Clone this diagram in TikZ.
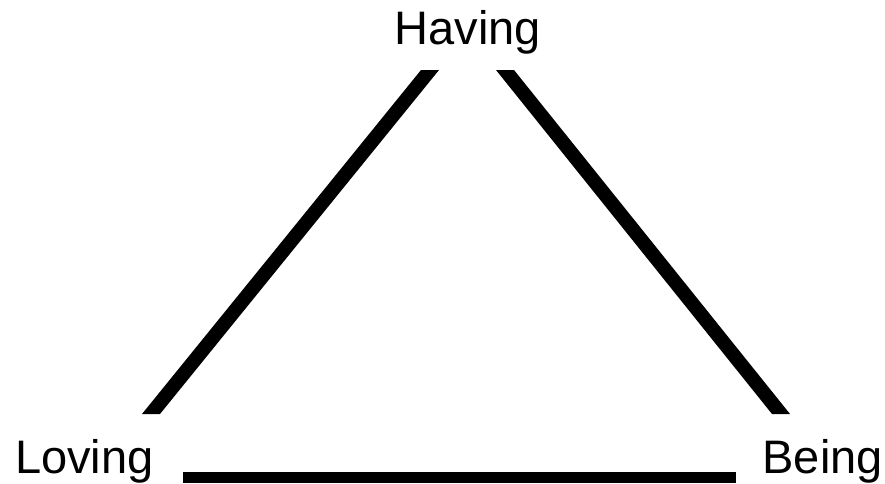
\documentclass[tikz,border=0pt]{standalone}
\usepackage{fontspec}
\setmainfont{Liberation Sans}
\begin{document}
\begin{tikzpicture}[x=1pt,y=-1pt,
  lbl/.style={inner sep=0pt,font=\fontsize{47}{56}\selectfont},
  bar/.style={fill=black,draw=none}]
\useasboundingbox (0,0) rectangle (885,483);
\node[lbl,anchor=base] (having) at (468,44) {Having};
\node[lbl,anchor=base west] (loving) at (15,473) {Loving};
\node[lbl,anchor=base east] (being) at (883,473) {Being};
% left edge
\coordinate (lt1) at (421,70); \coordinate (lt2) at (439,70);
\coordinate (lb1) at (142,414); \coordinate (lb2) at (160,414);
\fill[bar] (lt1) -- (lt2) -- (lb2) -- (lb1) -- cycle;
% right edge
\coordinate (rt1) at (496,70); \coordinate (rt2) at (514,70);
\coordinate (rb1) at (772,414); \coordinate (rb2) at (790,414);
\fill[bar] (rt1) -- (rt2) -- (rb2) -- (rb1) -- cycle;
% bottom edge
\coordinate (bl) at (183,472); \coordinate (br) at (736,483);
\fill[bar] (bl) rectangle (br);
\end{tikzpicture}
\end{document}
